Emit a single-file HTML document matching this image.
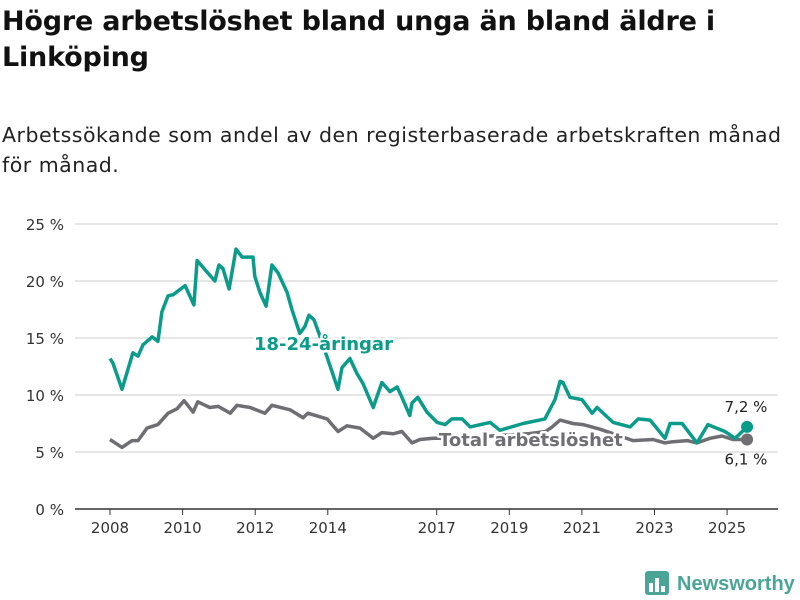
<!DOCTYPE html>
<html><head><meta charset="utf-8"><style>
body{margin:0;background:#fff;font-family:"DejaVu Sans","Liberation Sans",sans-serif;}
#wrap{position:relative;width:800px;height:600px;overflow:hidden;}
h1{position:absolute;left:2px;top:4px;margin:0;font-size:27px;line-height:36px;font-weight:bold;color:#111;width:795px;letter-spacing:-0.2px;}
p.sub{position:absolute;left:2px;top:120px;margin:0;font-size:20.5px;line-height:30px;color:#222;width:790px;letter-spacing:0.5px;}
svg{position:absolute;left:0;top:0;}
</style></head><body><div id="wrap">
<h1>Högre arbetslöshet bland unga än bland äldre i Linköping</h1>
<p class="sub">Arbetssökande som andel av den registerbaserade arbetskraften månad för månad.</p>
<svg id="c" width="800" height="600"></svg>
</div>
<script>
const yTicks=[0,5,10,15,20,25];
const xTicks=[2008,2010,2012,2014,2017,2019,2021,2023,2025];
const youthDates=[2008.00,2008.08,2008.33,2008.63,2008.77,2008.91,2009.16,2009.32,2009.43,2009.60,2009.74,2010.07,2010.31,2010.40,2010.67,2010.89,2011.00,2011.11,2011.28,2011.47,2011.64,2011.94,2011.99,2012.13,2012.30,2012.46,2012.63,2012.88,2013.01,2013.23,2013.37,2013.48,2013.62,2013.79,2014.28,2014.39,2014.61,2014.80,2014.97,2015.25,2015.49,2015.71,2015.91,2016.04,2016.26,2016.32,2016.48,2016.73,2017.01,2017.23,2017.42,2017.70,2017.92,2018.47,2018.74,2019.38,2019.98,2020.26,2020.40,2020.48,2020.67,2021.00,2021.28,2021.42,2021.86,2022.33,2022.55,2022.88,2023.29,2023.43,2023.76,2024.17,2024.47,2024.94,2025.22,2025.55];
const youthValues=[13.2,12.8,10.5,13.7,13.4,14.4,15.1,14.7,17.3,18.7,18.8,19.6,17.9,21.8,20.8,20.0,21.4,21.1,19.3,22.8,22.1,22.1,20.4,19.0,17.8,21.4,20.7,19.0,17.5,15.4,16.0,17.0,16.6,15.1,10.5,12.4,13.2,11.9,11.0,8.9,11.1,10.3,10.7,9.8,8.2,9.3,9.8,8.5,7.6,7.4,7.9,7.9,7.2,7.6,6.9,7.5,7.9,9.6,11.2,11.1,9.8,9.6,8.4,8.9,7.6,7.2,7.9,7.8,6.2,7.5,7.5,5.8,7.4,6.8,6.2,7.2];
const totalDates=[2008.00,2008.33,2008.61,2008.77,2009.02,2009.32,2009.60,2009.85,2010.04,2010.29,2010.42,2010.75,2010.98,2011.31,2011.50,2011.86,2012.27,2012.46,2012.96,2013.32,2013.45,2013.98,2014.28,2014.53,2014.89,2015.25,2015.49,2015.80,2016.04,2016.32,2016.54,2016.90,2017.5,2018.5,2019.5,2020.0,2020.18,2020.40,2020.75,2021.03,2021.5,2022.41,2022.96,2023.29,2023.51,2023.90,2024.17,2024.53,2024.86,2025.16,2025.55];
const totalValues=[6.1,5.4,6.0,6.0,7.1,7.4,8.4,8.8,9.5,8.5,9.4,8.9,9.0,8.4,9.1,8.9,8.4,9.1,8.7,8.0,8.4,7.9,6.8,7.3,7.1,6.2,6.7,6.6,6.8,5.8,6.1,6.2,6.2,6.4,6.6,6.8,7.2,7.8,7.5,7.4,7.0,6.0,6.1,5.8,5.9,6.0,5.8,6.2,6.4,6.1,6.1];
const NS="http://www.w3.org/2000/svg";
const svg=document.getElementById('c');
const X=y=>110+(y-2008)*36.3;
const Y=v=>509-v*11.4;
function mk(tag,attrs,parent){const e=document.createElementNS(NS,tag);for(const k in attrs)e.setAttribute(k,attrs[k]);(parent||svg).appendChild(e);return e;}
yTicks.forEach(t=>{
  if(t>0){const g=mk('line',{x1:75,x2:778,y1:Y(t),y2:Y(t),stroke:'#ddd','stroke-width':1.5});
  
  }
  const tx=mk('text',{x:64,y:Y(t)+6,'text-anchor':'end','font-size':15,fill:'#333'});
  tx.textContent=t+' %';
  
  
});
const base=mk('line',{x1:75,x2:778,y1:509,y2:509,stroke:'#333','stroke-width':1.5});


xTicks.forEach(t=>{
  const tk=mk('line',{x1:X(t),x2:X(t),y1:509,y2:515,stroke:'#333','stroke-width':1});
  
  
  const tx=mk('text',{x:X(t),y:533,'text-anchor':'middle','font-size':15,fill:'#333'});
  tx.textContent=t;
  
  
});
function path(d,v){return d.map((x,i)=>(i?'L':'M')+X(x).toFixed(1)+','+Y(v[i]).toFixed(1)).join('');}
const tl=mk('path',{d:path(totalDates,totalValues),fill:'none',stroke:'#6e6e73','stroke-width':3.5,'stroke-linejoin':'round'});


const yl=mk('path',{d:path(youthDates,youthValues),fill:'none',stroke:'#0b9b8a','stroke-width':3.5,'stroke-linejoin':'round'});


const n=youthDates.length-1, m=totalDates.length-1;
const yd=mk('circle',{cx:X(youthDates[n]),cy:Y(youthValues[n]),r:6,fill:'#0b9b8a'});


const td=mk('circle',{cx:X(totalDates[m]),cy:Y(totalValues[m]),r:6,fill:'#6e6e73'});


const yv=mk('text',{x:746,y:Y(youthValues[n])-15,'text-anchor':'middle','font-size':15,fill:'#222'});
yv.textContent=youthValues[n].toString().replace('.',',')+' %';


const tv=mk('text',{x:746,y:Y(totalValues[m])+25,'text-anchor':'middle','font-size':15,fill:'#222'});
tv.textContent=totalValues[m].toString().replace('.',',')+' %';


const l1=mk('text',{x:254,y:350,'font-size':18,'font-weight':'bold',fill:'#0b9b8a',stroke:'#fff','stroke-width':5,'paint-order':'stroke','stroke-linejoin':'round'});
l1.textContent='18-24-åringar';


const l2=mk('text',{x:439,y:446,'font-size':18,'font-weight':'bold',fill:'#6e6e73',stroke:'#fff','stroke-width':5,'paint-order':'stroke','stroke-linejoin':'round'});
l2.textContent='Total arbetslöshet';


const lg=mk('g',{});


mk('rect',{x:645,y:571,width:24,height:24,rx:3,fill:'#4aa596'},lg);
mk('rect',{x:649,y:583,width:4,height:9,fill:'#fff'},lg);
mk('rect',{x:655,y:578,width:4,height:14,fill:'#fff'},lg);
mk('rect',{x:661,y:586,width:4,height:6,fill:'#fff'},lg);
const lt=mk('text',{x:677,y:590,'font-size':20,'font-weight':'bold',fill:'#4aa596','font-family':'Liberation Sans, sans-serif'},lg);
lt.textContent='Newsworthy';
</script></body></html>
